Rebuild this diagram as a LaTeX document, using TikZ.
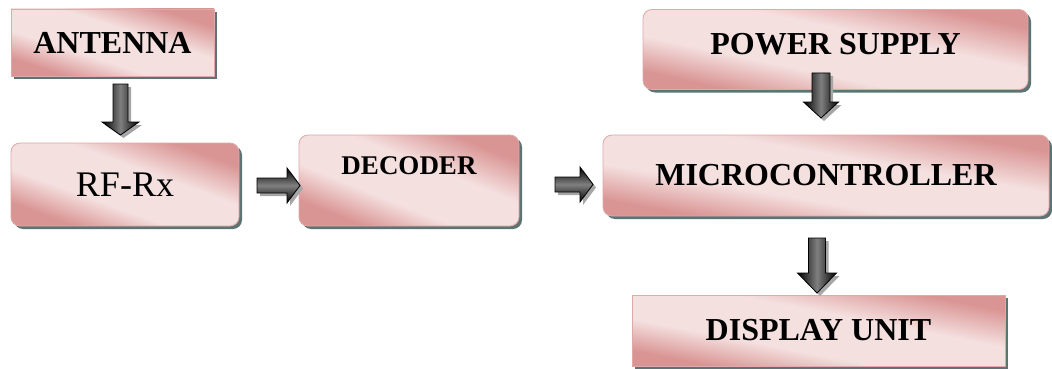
\documentclass[tikz,border=0pt]{standalone}
\usepackage{fontspec}
\setmainfont{Liberation Serif}
\usetikzlibrary{calc,shadows}
\definecolor{pdark}{HTML}{D99594}
\definecolor{plight}{HTML}{F4E0DF}
\definecolor{pedge}{HTML}{E0A8A7}
\definecolor{shd}{HTML}{5E7373}
\definecolor{ashd}{HTML}{A6A6A6}
\pgfdeclareverticalshading{pinkdiag}{100bp}{color(0bp)=(pdark); color(27bp)=(pdark); color(40bp)=(plight); color(58bp)=(plight); color(73bp)=(pdark); color(100bp)=(pdark)}
\newcommand\blockarrow[7]{%
  \coordinate (#6-b) at ($(#2)!#5!(#1)$);
  \coordinate (#6-1) at ($(#1)!#3!90:(#2)$);
  \coordinate (#6-2) at ($(#6-b)!#3!90:(#2)$);
  \coordinate (#6-3) at ($(#6-b)!#4!90:(#2)$);
  \coordinate (#6-5) at ($(#6-b)!#4!-90:(#2)$);
  \coordinate (#6-6) at ($(#6-b)!#3!-90:(#2)$);
  \coordinate (#6-7) at ($(#1)!#3!-90:(#2)$);
  \begin{scope}[transform canvas={xshift=3pt,yshift=-3pt}]
    \fill[ashd] (#6-1)--(#6-2)--(#6-3)--(#2)--(#6-5)--(#6-6)--(#6-7)--cycle;
  \end{scope}
  \draw[black,line width=0.8pt,#7] (#6-1)--(#6-2)--(#6-3)--(#2)--(#6-5)--(#6-6)--(#6-7)--cycle;
}
\tikzset{
  box/.style={draw=pedge, line width=0.8pt, shading=pinkdiag, shading angle=#1,
    drop shadow={shadow xshift=3pt, shadow yshift=-3pt, fill=shd, opacity=1},
    inner sep=0pt, font=\fontsize{32}{36}\selectfont\bfseries},
  rbox/.style={box=#1, rounded corners=9pt},
  downsh/.style={left color=black, right color=black, middle color=black!50},
  rightsh/.style={top color=black, bottom color=black, middle color=black!50},
}
\begin{document}
\begin{tikzpicture}[x=1pt,y=-1pt]
\useasboundingbox (0,0) rectangle (1052,369);
\node[box=-18, minimum width=203pt, minimum height=67pt] (ant) at (112.5,42.5) {ANTENNA};
\node[rbox=-20, minimum width=228pt, minimum height=83pt, font=\fontsize{36}{40}\selectfont] (rf) at (125,184.5) {RF-Rx};
\node[rbox=-22, minimum width=220pt, minimum height=91pt] (dec) at (409,180.5) {};
\node[font=\fontsize{27}{30}\selectfont\bfseries, inner sep=0pt] (dect) at (409,166) {DECODER};
\node[rbox=-12, minimum width=385pt, minimum height=80pt, text depth=12pt] (pow) at (835.5,49.5) {POWER SUPPLY};
\node[rbox=-10, minimum width=446pt, minimum height=81pt] (mcu) at (826,175.5) {MICROCONTROLLER};
\node[box=-11, minimum width=373pt, minimum height=71pt] (disp) at (818.5,330.5) {DISPLAY UNIT};
\coordinate (a1s) at (120.5,84);  \coordinate (a1e) at (120.5,135);
\coordinate (a2s) at (257,185.5); \coordinate (a2e) at (300,185.5);
\coordinate (a3s) at (555,184.5); \coordinate (a3e) at (593,184.5);
\coordinate (a4s) at (821,73);    \coordinate (a4e) at (821,118);
\coordinate (a5s) at (817,238);   \coordinate (a5e) at (817,293);
\blockarrow{a1s}{a1e}{7.5pt}{18.5pt}{13pt}{aa}{downsh}
\blockarrow{a2s}{a2e}{7.5pt}{17.5pt}{13pt}{ab}{rightsh}
\blockarrow{a3s}{a3e}{7.5pt}{17.5pt}{13pt}{ac}{rightsh}
\blockarrow{a4s}{a4e}{9pt}{17.5pt}{16pt}{ad}{downsh}
\blockarrow{a5s}{a5e}{8.5pt}{19.5pt}{20pt}{ae}{downsh}
\end{tikzpicture}
\end{document}
